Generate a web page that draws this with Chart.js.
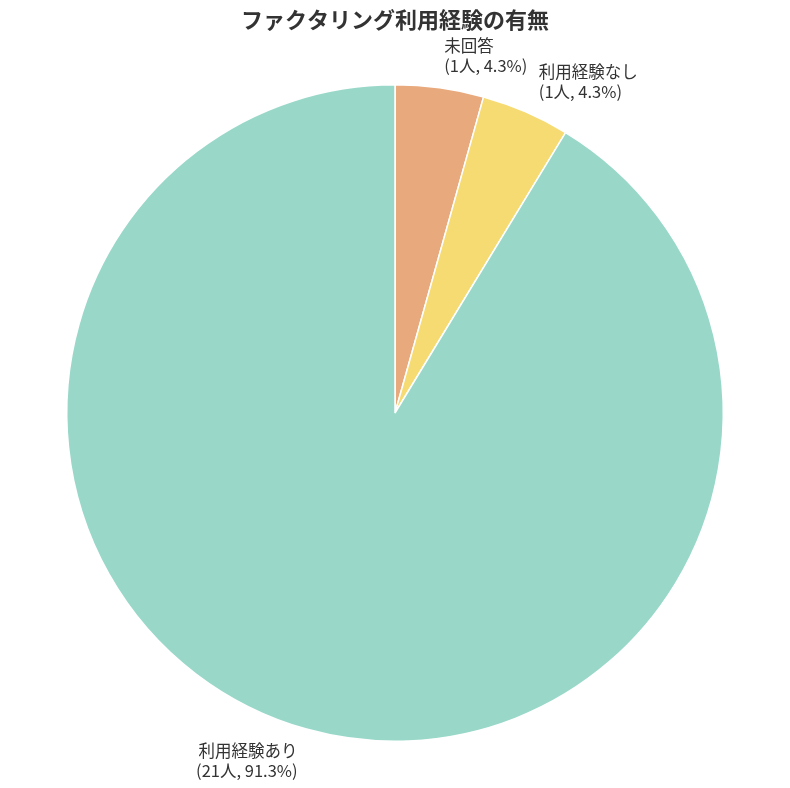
<!DOCTYPE html>
<html>
<head>
<meta charset="utf-8">
<script src="https://cdn.jsdelivr.net/npm/chart.js@4"></script>
<style>
html,body{margin:0;padding:0;background:#fff;}
canvas{display:block;}
</style>
</head>
<body>
<canvas id="c" width="790" height="788"></canvas>
<script>
const categories = ['未回答', '利用経験なし', '利用経験あり'];
const counts = [1, 1, 21];
const colors = ['#e8a97c', '#f6db72', '#99d8c9'];
const titleText = 'ファクタリング利用経験の有無';
const FONT = '"Noto Sans CJK JP", "Noto Sans", sans-serif';

const total = counts.reduce((a, b) => a + b, 0);

const labelPlugin = {
  id: 'outerLabels',
  afterDraw(chart) {
    const ctx = chart.ctx;
    const meta = chart.getDatasetMeta(0);
    ctx.save();
    // title
    ctx.font = 'bold 22px ' + FONT;
    ctx.fillStyle = '#333333';
    ctx.textAlign = 'center';
    ctx.textBaseline = 'middle';
    ctx.fillText(titleText, chart.width / 2, 20);

    ctx.font = '16.5px ' + FONT;
    ctx.fillStyle = '#333333';
    meta.data.forEach((arc, i) => {
      const mid = (arc.startAngle + arc.endAngle) / 2;
      const r = arc.outerRadius * 1.1;
      const x = arc.x + Math.cos(mid) * r;
      const y = arc.y + Math.sin(mid) * r;
      const pct = (counts[i] / total * 100).toFixed(1);
      const lines = [categories[i], '(' + counts[i] + '人, ' + pct + '%)'];
      ctx.textAlign = Math.cos(mid) >= 0 ? 'left' : 'right';
      ctx.textBaseline = 'middle';
      const lh = 20;
      lines.forEach((t, k) => {
        ctx.fillText(t, x, y + (k - (lines.length - 1) / 2) * lh);
      });
    });
    ctx.restore();
  }
};

new Chart(document.getElementById('c'), {
  type: 'pie',
  data: {
    labels: categories,
    datasets: [{
      data: counts,
      backgroundColor: colors,
      borderColor: '#ffffff',
      borderWidth: 1.5
    }]
  },
  options: {
    responsive: false,
    animation: false,
    layout: { padding: { top: 84, bottom: 46, left: 0, right: 0 } },
    plugins: {
      legend: { display: false },
      title: { display: false },
      tooltip: { enabled: false }
    }
  },
  plugins: [labelPlugin]
});
</script>
</body>
</html>
